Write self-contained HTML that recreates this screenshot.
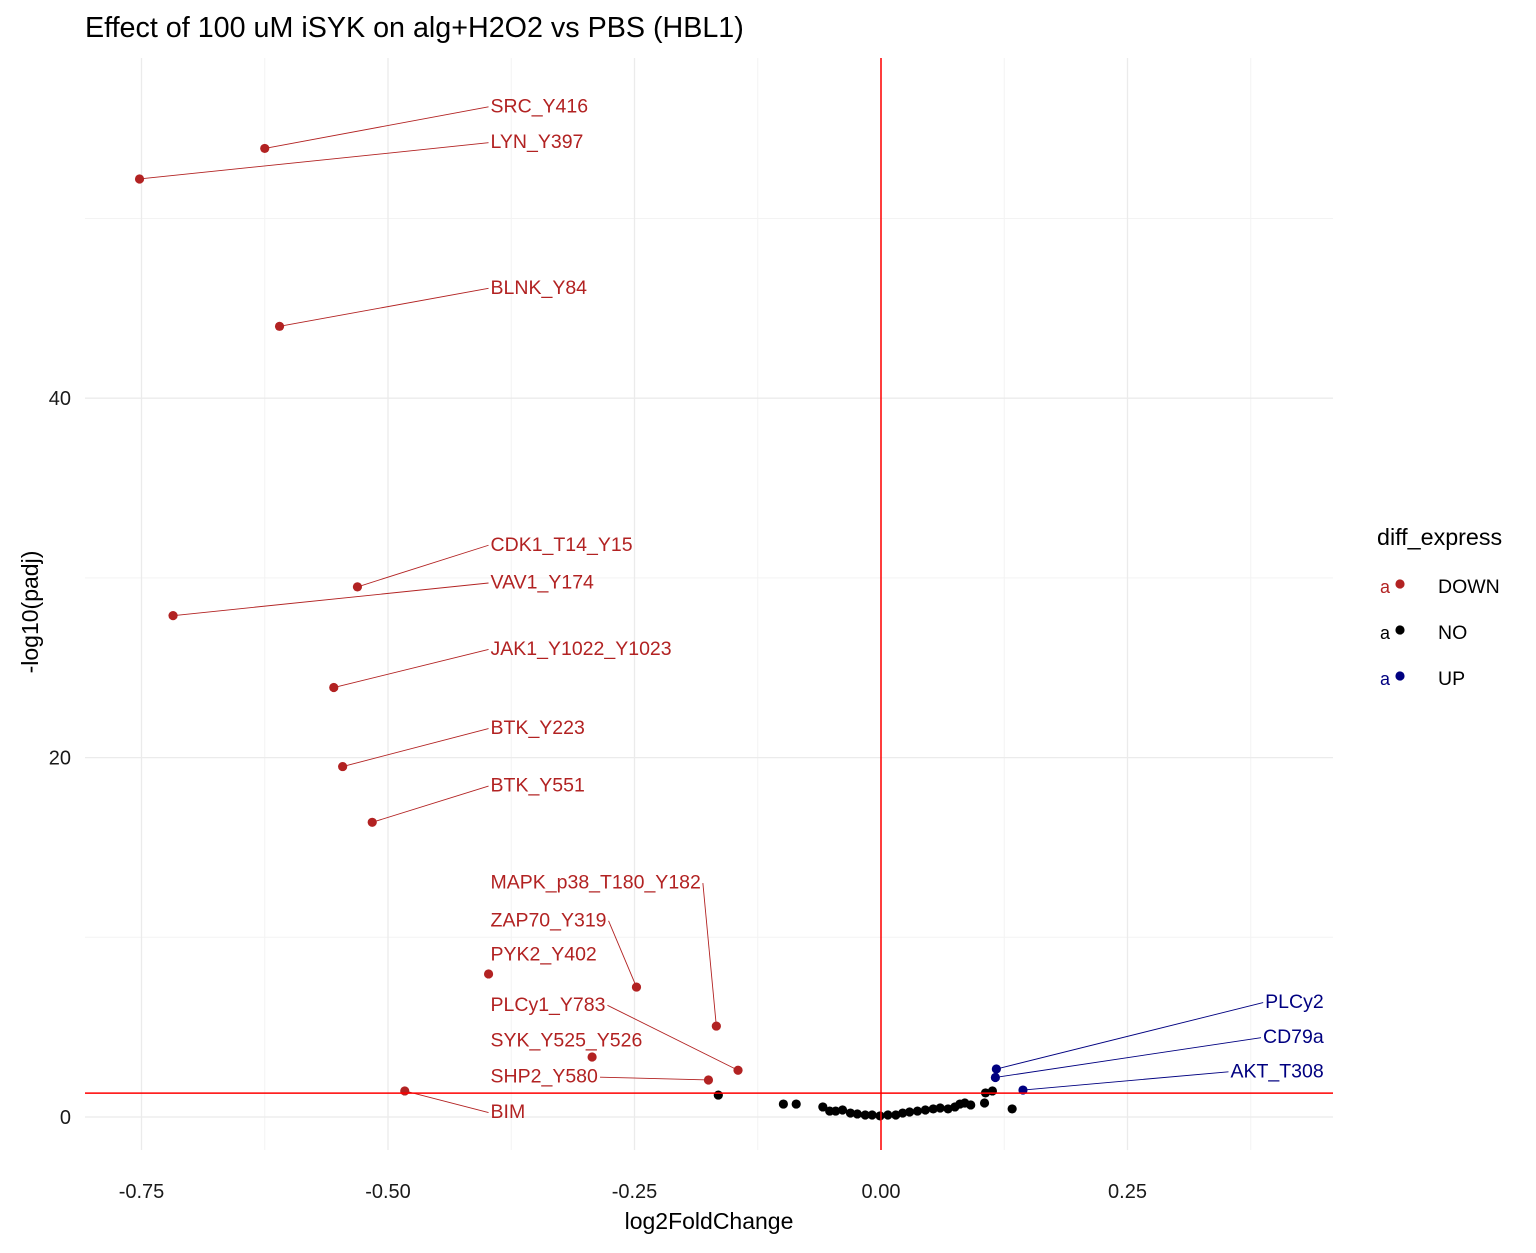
<!DOCTYPE html>
<html><head><meta charset="utf-8"><style>
body{margin:0;background:#fff}
svg text{font-family:"Liberation Sans",Arial,sans-serif}
</style></head><body>
<svg id="chart" width="1536" height="1248" xmlns="http://www.w3.org/2000/svg">
<rect width="1536" height="1248" fill="#fff"/>
<text x="85" y="37" font-size="28.7" fill="#000">Effect of 100 uM iSYK on alg+H2O2 vs PBS (HBL1)</text>
<g id="grid"></g><g id="segs"></g><g id="pts"></g><g id="labels"></g><g id="axes"></g>
<text x="709" y="1229" font-size="23" text-anchor="middle">log2FoldChange</text>
<text transform="translate(38,612) rotate(-90)" font-size="23" text-anchor="middle">-log10(padj)</text>
<g>
<text x="1377" y="545" font-size="23.3">diff_express</text>
<text x="1380" y="593" font-size="18" fill="#b22222">a</text><circle cx="1400" cy="584" r="4.6" fill="#b22222"/>
<text x="1438" y="593" font-size="19.5">DOWN</text>
<text x="1380" y="639" font-size="18" fill="#000">a</text><circle cx="1400" cy="630" r="4.6" fill="#000"/>
<text x="1438" y="639" font-size="19.5">NO</text>
<text x="1380" y="685" font-size="18" fill="#000080">a</text><circle cx="1400" cy="676" r="4.6" fill="#000080"/>
<text x="1438" y="685" font-size="19.5">UP</text>
</g>
</svg>
<script>
const NS="http://www.w3.org/2000/svg";
const xTicks=[-0.75,-0.5,-0.25,0,0.25];
const xTickLabels=["-0.75","-0.50","-0.25","0.00","0.25"];
const yTicks=[0,20,40];
const yTickLabels=["0","20","40"];
const downNames=["SRC_Y416","LYN_Y397","BLNK_Y84","CDK1_T14_Y15","VAV1_Y174","JAK1_Y1022_Y1023","BTK_Y223","BTK_Y551","MAPK_p38_T180_Y182","ZAP70_Y319","PYK2_Y402","PLCy1_Y783","SYK_Y525_Y526","SHP2_Y580","BIM"];
const downFC=[-0.625,-0.752,-0.61,-0.531,-0.718,-0.555,-0.546,-0.516,-0.167,-0.248,-0.398,-0.145,-0.293,-0.175,-0.483];
const downP=[53.9,52.2,44.0,29.5,27.9,23.9,19.5,16.4,5.06,7.23,7.96,2.6,3.34,2.06,1.45];
const downLabelY=[56.3,54.3,46.2,31.9,29.8,26.1,21.7,18.5,13.1,11.0,9.1,6.3,4.3,2.3,0.33];
const downLabelX=-0.396;
const upNames=["PLCy2","CD79a","AKT_T308"];
const upFC=[0.117,0.116,0.144];
const upP=[2.67,2.2,1.5];
const upLabelY=[6.45,4.5,2.6];
const upLabelX=0.449;
const noFC=[-0.165,-0.099,-0.086,-0.059,-0.052,-0.046,-0.039,-0.031,-0.024,-0.016,-0.009,-0.001,0.007,0.015,0.022,0.029,0.037,0.045,0.053,0.060,0.068,0.075,0.080,0.085,0.091,0.105,0.106,0.113,0.133];
const noP=[1.22,0.72,0.72,0.56,0.33,0.33,0.39,0.22,0.17,0.11,0.11,0.06,0.11,0.11,0.22,0.28,0.33,0.39,0.45,0.50,0.45,0.56,0.72,0.78,0.67,0.78,1.34,1.45,0.45];
const pThresh=1.33;

const L=85,R=1333,T=58,B=1150;
const X=v=>881+v*986;
const Y=v=>1117-v*17.97;
function el(tag,attrs,parent){const e=document.createElementNS(NS,tag);for(const k in attrs)e.setAttribute(k,attrs[k]);parent.appendChild(e);return e;}
const grid=document.getElementById('grid'),axes=document.getElementById('axes');
const segs=document.getElementById('segs'),pts=document.getElementById('pts'),labs=document.getElementById('labels');
for(let i=0;i<xTicks.length;i++){
  const m=xTicks[i]+0.125;const g=el('line',{x1:X(m),x2:X(m),y1:T,y2:B,stroke:'#f3f3f3','stroke-width':1},grid);
  
  
}
for(const v of [10,30,50]){
  const g=el('line',{x1:L,x2:R,y1:Y(v),y2:Y(v),stroke:'#f3f3f3','stroke-width':1},grid);
  
  
}
xTicks.forEach((v,i)=>{
  const g=el('line',{x1:X(v),x2:X(v),y1:T,y2:B,stroke:'#ebebeb','stroke-width':1.3},grid);
  
  
  const t=el('text',{x:X(v),y:1198,'font-size':20,'text-anchor':'middle',fill:'#1a1a1a'},axes);
  t.textContent=xTickLabels[i];
  
  
});
yTicks.forEach((v,i)=>{
  const g=el('line',{x1:L,x2:R,y1:Y(v),y2:Y(v),stroke:'#ebebeb','stroke-width':1.3},grid);
  
  
  const t=el('text',{x:71,y:Y(v)+7,'font-size':20,'text-anchor':'end',fill:'#1a1a1a'},axes);
  t.textContent=yTickLabels[i];
  
  
});
const vl=el('line',{x1:X(0),x2:X(0),y1:T,y2:B,stroke:'#ff0000','stroke-width':1.5},axes);


const hl=el('line',{x1:L,x2:R,y1:Y(pThresh),y2:Y(pThresh),stroke:'#ff0000','stroke-width':1.5},axes);



function labelPoint(names,fc,p,ly,lx,color,anchor,kind){
  names.forEach((n,i)=>{
    const px=X(fc[i]),py=Y(p[i]);
    const t=el('text',{x:X(lx),y:Y(ly[i])+7,'font-size':19.5,fill:color,'text-anchor':anchor},labs);
    t.textContent=n;
    
    
    const bb=t.getBBox();
    const x0=bb.x-2,x1=bb.x+bb.width+2,y0=bb.y+2,y1=bb.y+bb.height-1;
    const cx=(x0+x1)/2,cy=(y0+y1)/2;
    const cands=[[x0,cy],[x1,cy],[cx,y0],[cx,y1]];
    let best=null,bd=Infinity;
    for(const c of cands){const d=Math.hypot(c[0]-px,c[1]-py);if(d<bd){bd=d;best=c;}}
    if(bd>32){
      const sg=el('line',{x1:px,y1:py,x2:best[0],y2:best[1],stroke:color,'stroke-width':0.9},segs);
      
      
    }
    const c=el('circle',{cx:px,cy:py,r:4.6,fill:color},pts);
    
    
  });
}
noFC.forEach((v,i)=>{
  const c=el('circle',{cx:X(v),cy:Y(noP[i]),r:4.6,fill:'#000'},pts);
  
  
});
labelPoint(downNames,downFC,downP,downLabelY,downLabelX,'#b22222','start','down');
labelPoint(upNames,upFC,upP,upLabelY,upLabelX,'#000080','end','up');
</script>
</body></html>
